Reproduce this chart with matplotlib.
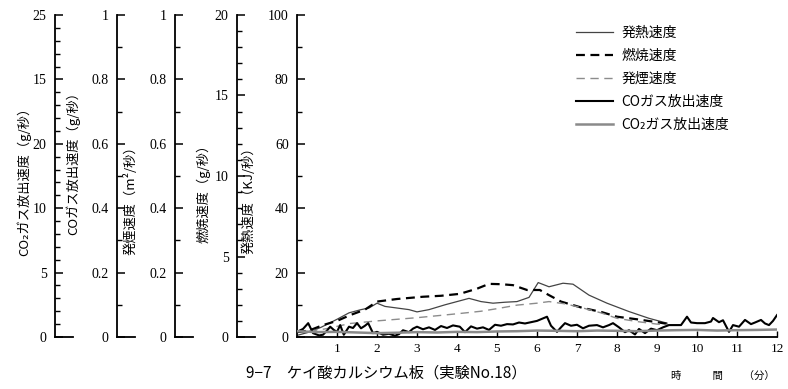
import matplotlib
matplotlib.use("Agg")
import matplotlib.pyplot as plt
from matplotlib.ticker import MultipleLocator
import numpy as np

plt.rcParams['font.family'] = ['Liberation Serif', 'Noto Sans CJK JP', 'DejaVu Sans']
JP = ['Noto Sans CJK JP', 'DejaVu Sans']

# --- datos ---
# 発熱速度 (KJ/秒)
t_heat = [0.0, 0.3, 0.6, 1.0, 1.3, 1.6, 1.8, 2.0, 2.2, 2.5, 2.8, 3.0, 3.3, 3.7, 4.0,
          4.3, 4.6, 4.9, 5.2, 5.5, 5.8, 6.03, 6.3, 6.65, 6.9, 7.3, 7.75, 8.3, 8.8, 9.25]
heat = [0.5, 1.5, 3.0, 5.5, 7.5, 8.5, 9.0, 10.5, 9.5, 9.0, 8.5, 7.8, 8.5, 10.0, 11.0,
        12.0, 11.0, 10.5, 10.8, 11.0, 12.3, 16.9, 15.6, 16.7, 16.4, 13.0, 10.5, 7.9, 5.8, 4.3]

# 燃焼速度 (g/秒)
t_burn = [0.0, 0.3, 0.65, 1.0, 1.33, 1.7, 2.0, 2.5, 3.15, 3.6, 4.07, 4.5, 4.8, 5.1, 5.4,
          5.75, 6.07, 6.3, 6.6, 7.15, 7.6, 8.0, 8.5, 9.0, 9.3]
burn = [0.30, 0.40, 0.74, 1.00, 1.36, 1.70, 2.20, 2.36, 2.50, 2.56, 2.68, 3.00, 3.30, 3.28, 3.22,
        2.92, 2.92, 2.60, 2.20, 1.80, 1.56, 1.26, 1.10, 0.92, 0.80]

# 発煙速度 (m2/秒)
t_smoke = [0.3, 0.7, 1.0, 1.33, 2.0, 2.5, 3.0, 3.5, 4.07, 4.6, 5.0, 5.5, 6.0, 6.3, 6.7,
           7.15, 7.6, 8.0, 8.5, 9.0, 9.3]
smoke = [0.018, 0.025, 0.033, 0.042, 0.050, 0.055, 0.060, 0.066, 0.073, 0.080, 0.088, 0.099,
         0.105, 0.110, 0.103, 0.090, 0.075, 0.058, 0.048, 0.040, 0.038]

# COガス放出速度 (g/秒)
t_co = [0.00, 0.15, 0.28, 0.40, 0.55, 0.65, 0.75, 0.83, 0.92, 1.00, 1.08, 1.17, 1.30, 1.40,
        1.50, 1.60, 1.70, 1.78, 1.90, 2.00, 2.15, 2.30, 2.45, 2.55, 2.65, 2.80, 2.90, 3.00,
        3.15, 3.30, 3.45, 3.60, 3.75, 3.90, 4.07, 4.20, 4.35, 4.50, 4.65, 4.80, 4.95, 5.10,
        5.25, 5.40, 5.55, 5.70, 5.85, 6.00, 6.25, 6.35, 6.50, 6.60, 6.70, 6.85, 7.00, 7.15,
        7.30, 7.50, 7.65, 7.80, 7.90, 8.05, 8.20, 8.30, 8.45, 8.55, 8.70, 8.85, 9.00, 9.15,
        9.30, 9.60, 9.75, 9.85, 10.00, 10.20, 10.35, 10.40, 10.55, 10.65, 10.80, 10.90,
        11.05, 11.20, 11.35, 11.45, 11.60, 11.70, 11.80, 11.90, 12.00]
co = [0.016, 0.025, 0.043, 0.012, 0.005, 0.007, 0.020, 0.032, 0.022, 0.016, 0.037, 0.007,
      0.032, 0.028, 0.043, 0.027, 0.035, 0.043, 0.012, 0.016, 0.007, 0.010, 0.004, 0.009,
      0.021, 0.015, 0.026, 0.032, 0.024, 0.030, 0.022, 0.034, 0.028, 0.036, 0.032, 0.015,
      0.033, 0.026, 0.030, 0.022, 0.038, 0.035, 0.040, 0.039, 0.045, 0.042, 0.046, 0.050,
      0.063, 0.035, 0.016, 0.030, 0.043, 0.035, 0.038, 0.027, 0.035, 0.037, 0.030, 0.037,
      0.043, 0.030, 0.015, 0.021, 0.008, 0.025, 0.012, 0.026, 0.021, 0.030, 0.037, 0.037,
      0.063, 0.045, 0.043, 0.043, 0.048, 0.059, 0.046, 0.052, 0.016, 0.037, 0.032, 0.053,
      0.040, 0.045, 0.053, 0.042, 0.037, 0.050, 0.068]

# CO2ガス放出速度 (g/秒)
t_co2 = [0, 0.5, 1.0, 1.5, 2, 2.5, 3, 3.5, 4, 4.5, 5, 5.5, 6, 6.5, 7, 7.5, 8, 8.5, 9,
         9.5, 10, 10.5, 11, 11.5, 12]
co2 = [0.45, 0.38, 0.40, 0.35, 0.30, 0.33, 0.38, 0.35, 0.40, 0.38, 0.43, 0.45, 0.50, 0.48,
       0.45, 0.50, 0.48, 0.45, 0.50, 0.53, 0.55, 0.50, 0.53, 0.55, 0.58]

co2_ticks = [0, 5, 10, 15, 20, 25]
co2_ticklabels = ["0", "5", "10", "20", "15", "25"]   # asi aparece en el original
x_ticks = list(range(1, 13))

# --- figura ---
W, H = 788, 389
fig = plt.figure(figsize=(W / 100, H / 100), dpi=100)
ax = fig.add_axes([297 / W, 52 / H, 480 / W, 322 / H])   # eje de 発熱速度

def estilo(a, lo, hi, mayor, menor):
    a.set_ylim(lo, hi)
    a.yaxis.set_major_locator(MultipleLocator(mayor))
    a.yaxis.set_minor_locator(MultipleLocator(menor))
    a.tick_params(axis='y', which='major', direction='in', length=6, width=1.1,
                  labelsize=10, pad=6)
    a.tick_params(axis='y', which='minor', direction='in', length=3.5, width=1.0)
    a.spines['left'].set_linewidth(1.3)

ax.set_xlim(0, 12)
estilo(ax, 0, 100, 20, 10)
ax.spines['top'].set_visible(False)
ax.spines['right'].set_visible(False)
ax.spines['bottom'].set_linewidth(1.3)
ax.set_xticks(x_ticks)
ax.tick_params(axis='x', direction='in', length=4, width=1.0, labelsize=9.5, pad=4)

# ejes desplazados a la izquierda
ejes = []
for pos in [-60 / 480, -122 / 480, -180 / 480, -242 / 480]:
    tw = ax.twinx()
    for s in ['right', 'top', 'bottom']:
        tw.spines[s].set_visible(False)
    tw.spines['left'].set_visible(True)
    tw.spines['left'].set_position(('axes', pos))
    tw.yaxis.set_ticks_position('left')
    ax.plot([pos, pos + 18 / 480], [0, 0], transform=ax.transAxes, color='k',
            lw=1.3, clip_on=False)
    ejes.append(tw)
ax_burn, ax_smoke, ax_co, ax_co2 = ejes

estilo(ax_burn, 0, 20, 5, 1)
estilo(ax_smoke, 0, 1, 0.2, 0.1)
estilo(ax_co, 0, 1, 0.2, 0.1)
estilo(ax_co2, 0, 25, 5, 1)
for a in [ax_smoke, ax_co]:
    a.set_yticks([0, 0.2, 0.4, 0.6, 0.8, 1])
    a.set_yticklabels(["0", "0.2", "0.4", "0.6", "0.8", "1"])
ax_co2.set_yticks(co2_ticks)
ax_co2.set_yticklabels(co2_ticklabels)

# curvas
l5, = ax_co2.plot(t_co2, co2, color='#8a8a8a', lw=1.8)
l3, = ax_smoke.plot(t_smoke, smoke, color='#8c8c8c', lw=1.0, dashes=(6, 4))
l1, = ax.plot(t_heat, heat, color='#444444', lw=0.9)
l2, = ax_burn.plot(t_burn, burn, color='black', lw=1.6, dashes=(4, 2.5))
l4, = ax_co.plot(t_co, co, color='black', lw=1.5)

fig.legend([l1, l2, l3, l4, l5],
           ["発熱速度", "燃焼速度", "発煙速度", "COガス放出速度", "CO₂ガス放出速度"],
           loc='upper left', bbox_to_anchor=(563 / W, 1 - 13 / H), frameon=False,
           prop={'family': JP, 'size': 10}, handlelength=2.7, labelspacing=0.65,
           handletextpad=0.6)

# titulos de ejes
rot = dict(rotation=90, ha='center', va='center', family=JP, fontsize=9.5)
fig.text(24 / W, 1 - 178 / H, "CO₂ガス放出速度（g/秒）", **rot)
fig.text(73 / W, 1 - 160 / H, "COガス放出速度（g/秒）", **rot)
fig.text(131 / W, 1 - 197 / H, "発煙速度（m²/秒）", **rot)
fig.text(203 / W, 1 - 190 / H, "燃焼速度（g/秒）", **rot)
fig.text(249 / W, 1 - 197 / H, "発熱速度（KJ/秒）", **rot)

fig.text(386 / W, 1 - 373 / H, "9−7　ケイ酸カルシウム板（実験No.18）",
         ha='center', va='center', family=JP, fontsize=11)
fig.text(723 / W, 1 - 376 / H, "時　　　間　　（分）", ha='center', va='center',
         family=JP, fontsize=7.5)

fig.savefig("out.png", dpi=100)
